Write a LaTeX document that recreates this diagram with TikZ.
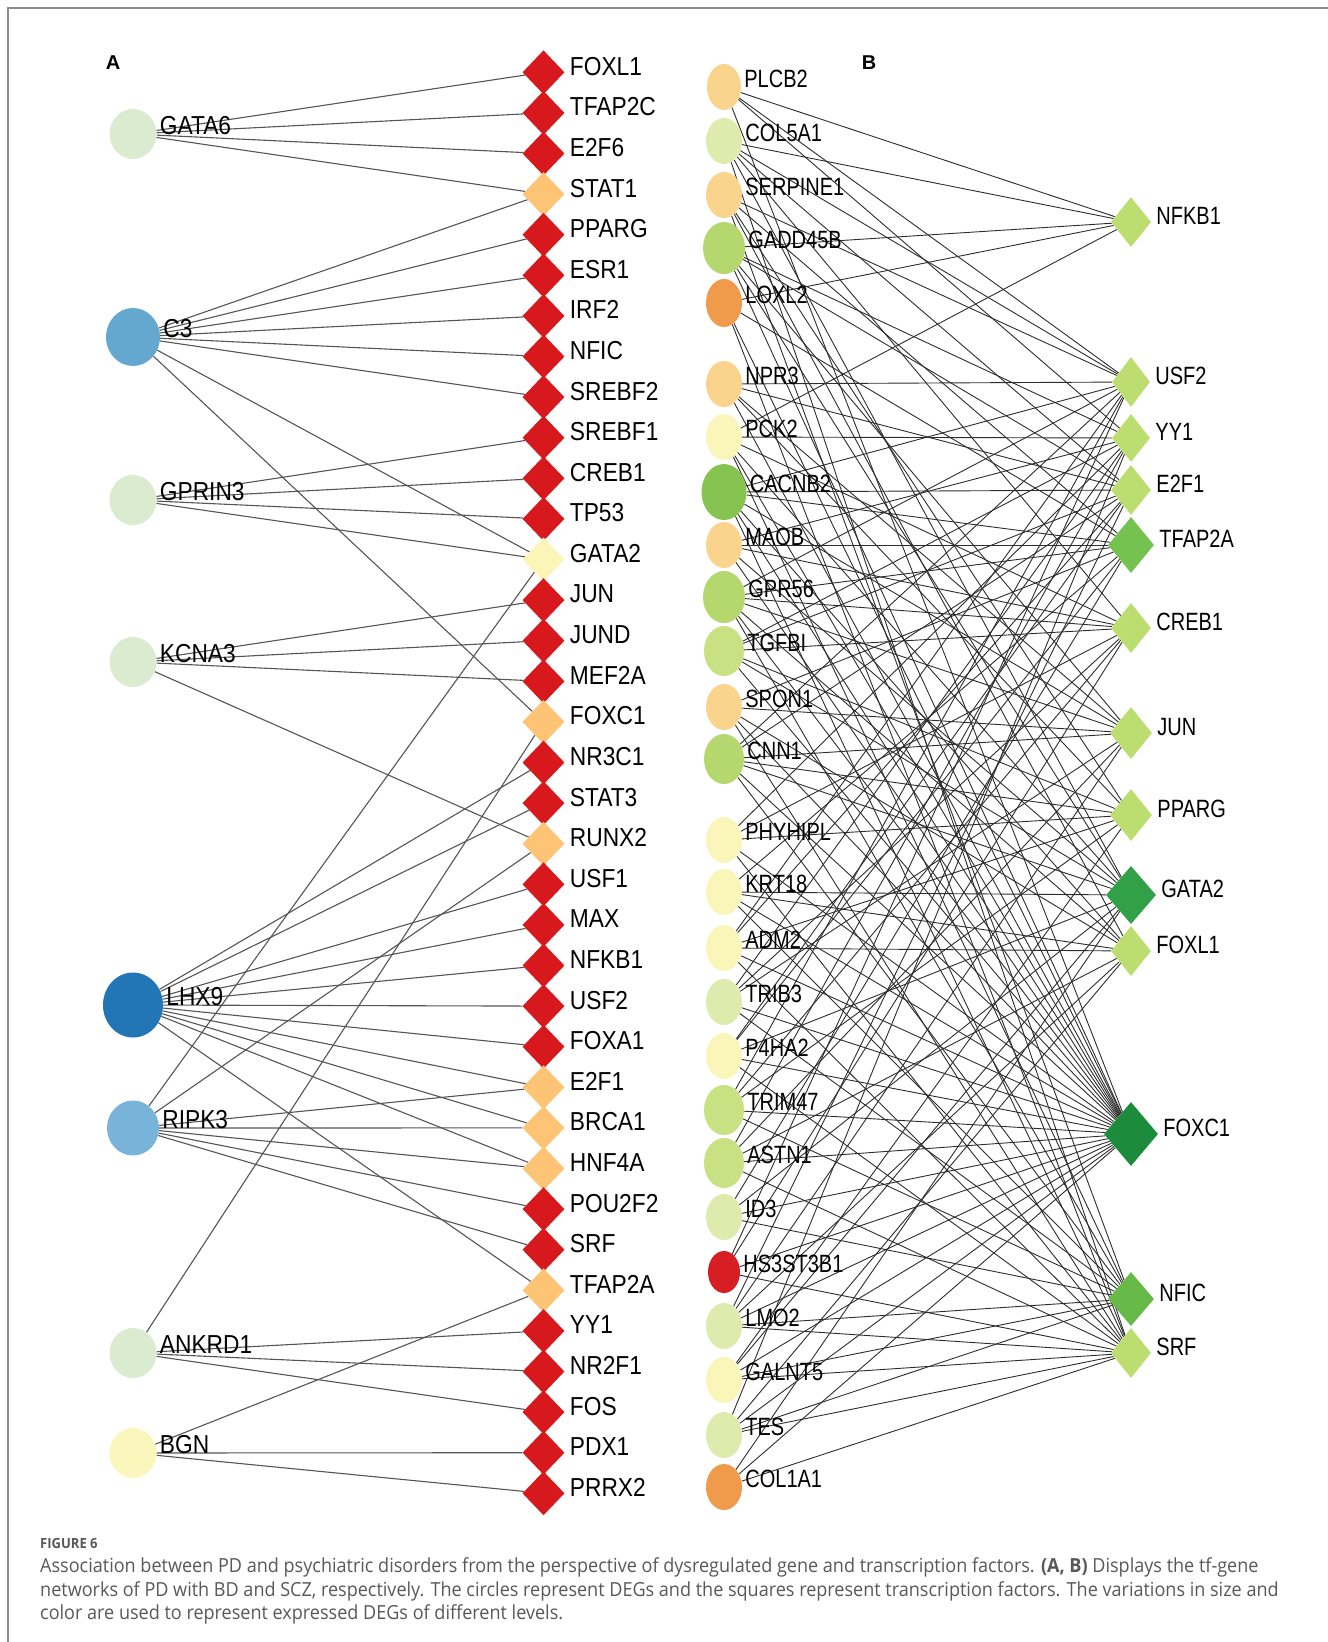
\documentclass[tikz,border=0pt]{standalone}
\usepackage{fontspec}
\newfontfamily\netfont{Liberation Sans}[FakeStretch=0.875]
\newfontfamily\netfontb{Liberation Sans}[FakeStretch=0.8]
\newfontfamily\panfont{Liberation Sans}
\newfontfamily\capfont{Open Sans}[FakeStretch=0.93]
\usetikzlibrary{shapes.geometric,backgrounds}

% node colours, panel A
\definecolor{tfred}{RGB}{215,25,30}
\definecolor{tforange}{RGB}{253,196,118}
\definecolor{tfyellow}{RGB}{251,246,184}
\definecolor{palegreen}{RGB}{218,235,208}
\definecolor{midblue}{RGB}{100,168,208}
\definecolor{darkblue}{RGB}{34,118,181}
\definecolor{lightblue}{RGB}{120,180,218}
\definecolor{paleyellow}{RGB}{251,246,188}
% node colours, panel B
\definecolor{borange}{RGB}{250,212,140}
\definecolor{bpale}{RGB}{222,235,172}
\definecolor{bgreen}{RGB}{180,215,110}
\definecolor{bdark}{RGB}{135,195,80}
\definecolor{bmid}{RGB}{200,225,130}
\definecolor{bdeep}{RGB}{240,155,75}
\definecolor{byellow}{RGB}{250,246,186}
\definecolor{bred}{RGB}{215,30,35}
\definecolor{tflight}{RGB}{188,222,112}
\definecolor{tfmid}{RGB}{118,194,80}
\definecolor{tfnic}{RGB}{104,186,72}
\definecolor{tfgata}{RGB}{50,160,70}
\definecolor{tffox}{RGB}{28,140,60}
\definecolor{linkgray}{RGB}{85,85,85}
\definecolor{linkdark}{RGB}{45,45,45}
\definecolor{capgray}{RGB}{88,88,88}
\definecolor{framegray}{RGB}{140,140,140}

\tikzset{
  gene/.style={ellipse, inner sep=0pt},
  tfnode/.style={diamond, inner sep=0pt},
  labA/.style={anchor=west, inner sep=0pt, font=\netfont\fontsize{26}{26}\selectfont},
  labB/.style={anchor=west, inner sep=0pt, font=\netfontb\fontsize{25}{25}\selectfont},
  link/.style={draw=linkgray, line width=1.1pt},
  linkb/.style={draw=linkdark, line width=0.9pt},
  capline/.style={anchor=west, inner sep=0pt, text=capgray, font=\capfont\fontsize{19.4}{19.4}\selectfont},
}

\begin{document}
\begin{tikzpicture}[x=1pt, y=-1pt]
\useasboundingbox (0,0) rectangle (1328,1642);
\draw[framegray, line width=1.2pt] (8,1642) -- (8,8) -- (1328,8);

\node[font=\panfont\bfseries\fontsize{20}{20}\selectfont] (pA) at (113,63) {A};
\node[font=\panfont\bfseries\fontsize{20}{20}\selectfont] (pB) at (869,63) {B};

% panel A: transcription factors
\foreach \n/\c [count=\i from 0] in {FOXL1/tfred, TFAP2C/tfred, E2F6/tfred, STAT1/tforange,
    PPARG/tfred, ESR1/tfred, IRF2/tfred, NFIC/tfred, SREBF2/tfred, SREBF1/tfred, CREB1/tfred,
    TP53/tfred, GATA2/tfyellow, JUN/tfred, JUND/tfred, MEF2A/tfred, FOXC1/tforange, NR3C1/tfred,
    STAT3/tfred, RUNX2/tforange, USF1/tfred, MAX/tfred, NFKB1/tfred, USF2/tfred, FOXA1/tfred,
    E2F1/tforange, BRCA1/tforange, HNF4A/tforange, POU2F2/tfred, SRF/tfred, TFAP2A/tforange,
    YY1/tfred, NR2F1/tfred, FOS/tfred, PDX1/tfred, PRRX2/tfred}{
  \node[tfnode, fill=\c, minimum width=42pt, minimum height=44pt] (at-\n) at (543.5,{72.3+40.6*\i}) {};
  \node[labA] (atl-\n) at ([xshift=5pt,yshift=6pt]at-\n.east) {\n};
}

% panel A: genes
\foreach \n/\y/\w/\h/\c in {GATA6/134/47/50/palegreen, C3/337/54/58/midblue,
    GPRIN3/500/47/50/palegreen, KCNA3/662/47/50/palegreen, LHX9/1005/60/65/darkblue,
    RIPK3/1128/52/55/lightblue, ANKRD1/1353/47/50/palegreen, BGN/1453/47/50/paleyellow}{
  \node[gene, fill=\c, minimum width=\w pt, minimum height=\h pt] (ag-\n) at (133,\y) {};
  \node[labA] (agl-\n) at ([xshift=3pt,yshift=8pt]ag-\n.east) {\n};
}

% panel B: transcription factors
\foreach \n/\y/\w/\h/\c in {NFKB1/222/40/50/tflight, USF2/382/38/50/tflight,
    YY1/438/38/48/tflight, E2F1/490/40/50/tflight, TFAP2A/545/46/56/tfmid,
    CREB1/628/40/50/tflight, JUN/733/42/52/tflight, PPARG/815/42/52/tflight,
    GATA2/895/50/58/tfgata, FOXL1/951/40/50/tflight, FOXC1/1134/54/64/tffox,
    NFIC/1299/46/54/tfnic, SRF/1353/40/50/tflight}{
  \node[tfnode, fill=\c, minimum width=\w pt, minimum height=\h pt] (bt-\n) at (1131,\y) {};
  \node[labB] (btl-\n) at ([xshift=5pt,yshift=6pt]bt-\n.east) {\n};
}

% panel B: genes
\foreach \n/\y/\w/\h/\c in {PLCB2/87/34/46/borange, COL5A1/141/36/46/bpale,
    SERPINE1/195/36/46/borange, GADD45B/248/42/52/bgreen, LOXL2/303/36/48/bdeep,
    NPR3/384/36/46/borange, PCK2/437/36/46/byellow, CACNB2/492/45/56/bdark,
    MAOB/545/36/46/borange, GPR56/597/42/52/bgreen, TGFBI/651/40/50/bmid,
    SPON1/707/36/46/borange, CNN1/759/40/50/bgreen, PHYHIPL/840/36/46/byellow,
    KRT18/892/36/46/byellow, ADM2/948/36/46/byellow, TRIB3/1002/36/46/bpale,
    P4HA2/1056/36/46/byellow, TRIM47/1110/40/50/bmid, ASTN1/1163/40/50/bmid,
    ID3/1217/36/46/bpale, HS3ST3B1/1272/32/42/bred, LMO2/1326/36/46/bpale,
    GALNT5/1380/36/46/byellow, TES/1435/36/46/bpale, COL1A1/1487/36/46/bdeep}{
  \node[gene, fill=\c, minimum width=\w pt, minimum height=\h pt] (bg-\n) at (724,\y) {};
  \node[labB] (bgl-\n) at ([xshift=3pt,yshift=8pt]bg-\n.east) {\n};
}

\begin{scope}[on background layer]
% panel A links
\foreach \g/\ts in {GATA6/{FOXL1,TFAP2C,E2F6,STAT1},
    C3/{STAT1,PPARG,ESR1,IRF2,NFIC,SREBF2,GATA2,FOXC1},
    GPRIN3/{SREBF1,CREB1,TP53,GATA2},
    KCNA3/{JUN,JUND,MEF2A,RUNX2},
    LHX9/{NR3C1,STAT3,USF1,MAX,NFKB1,USF2,FOXA1,E2F1,BRCA1,HNF4A,TFAP2A},
    RIPK3/{GATA2,RUNX2,E2F1,BRCA1,HNF4A,POU2F2,SRF},
    ANKRD1/{FOXC1,YY1,NR2F1,FOS},
    BGN/{TFAP2A,PDX1,PRRX2}}{
  \foreach \t in \ts {\draw[link] (ag-\g) -- (at-\t);}
}
% panel B links
\foreach \g/\ts in {PLCB2/{NFKB1,USF2,YY1,FOXC1},
    COL5A1/{NFKB1,USF2,E2F1,CREB1,GATA2,SRF},
    SERPINE1/{USF2,TFAP2A,PPARG,FOXL1,NFIC},
    GADD45B/{NFKB1,YY1,E2F1,JUN,GATA2,FOXC1},
    LOXL2/{NFKB1,TFAP2A,FOXC1,SRF},
    NPR3/{USF2,E2F1,JUN,PPARG,FOXC1},
    PCK2/{NFKB1,YY1,CREB1,GATA2,FOXC1,NFIC},
    CACNB2/{USF2,E2F1,TFAP2A,JUN,FOXL1,FOXC1,SRF},
    MAOB/{TFAP2A,YY1,CREB1,GATA2,FOXC1},
    GPR56/{USF2,TFAP2A,CREB1,JUN,FOXL1,FOXC1,NFIC},
    TGFBI/{YY1,E2F1,CREB1,PPARG,GATA2,FOXC1},
    SPON1/{TFAP2A,JUN,FOXL1,FOXC1,SRF},
    CNN1/{JUN,USF2,E2F1,PPARG,GATA2,FOXC1,NFIC},
    PHYHIPL/{PPARG,YY1,CREB1,FOXC1,SRF},
    KRT18/{GATA2,TFAP2A,FOXL1,FOXC1,NFIC},
    ADM2/{FOXL1,USF2,E2F1,PPARG,FOXC1,SRF},
    TRIB3/{YY1,CREB1,JUN,FOXC1,NFIC},
    P4HA2/{E2F1,TFAP2A,GATA2,FOXC1,SRF},
    TRIM47/{FOXC1,USF2,CREB1,PPARG,NFIC},
    ASTN1/{FOXC1,YY1,JUN,FOXL1,SRF},
    ID3/{TFAP2A,GATA2,FOXC1,NFIC},
    HS3ST3B1/{USF2,CREB1,FOXC1,SRF},
    LMO2/{NFIC,SRF,E2F1,JUN,FOXL1,FOXC1},
    GALNT5/{SRF,NFIC,PPARG,GATA2,FOXC1},
    TES/{FOXC1,FOXL1,NFIC,SRF,YY1},
    COL1A1/{FOXC1,GATA2,SRF}}{
  \foreach \t in \ts {\draw[linkb] (bg-\g) -- (bt-\t);}
}
\end{scope}

% caption
\node[anchor=west, inner sep=0pt, text=capgray, font=\capfont\bfseries\fontsize{14}{14}\selectfont] (figno) at (40,1543) {FIGURE 6};
\node[capline] (cap1) at (40,1567) {Association between PD and psychiatric disorders from the perspective of dysregulated gene and transcription factors. {\bfseries (A, B)} Displays the tf-gene};
\node[capline] (cap2) at (40,1591) {networks of PD with BD and SCZ, respectively. The circles represent DEGs and the squares represent transcription factors. The variations in size and};
\node[capline] (cap3) at (40,1614) {color are used to represent expressed DEGs of different levels.};
\end{tikzpicture}
\end{document}
